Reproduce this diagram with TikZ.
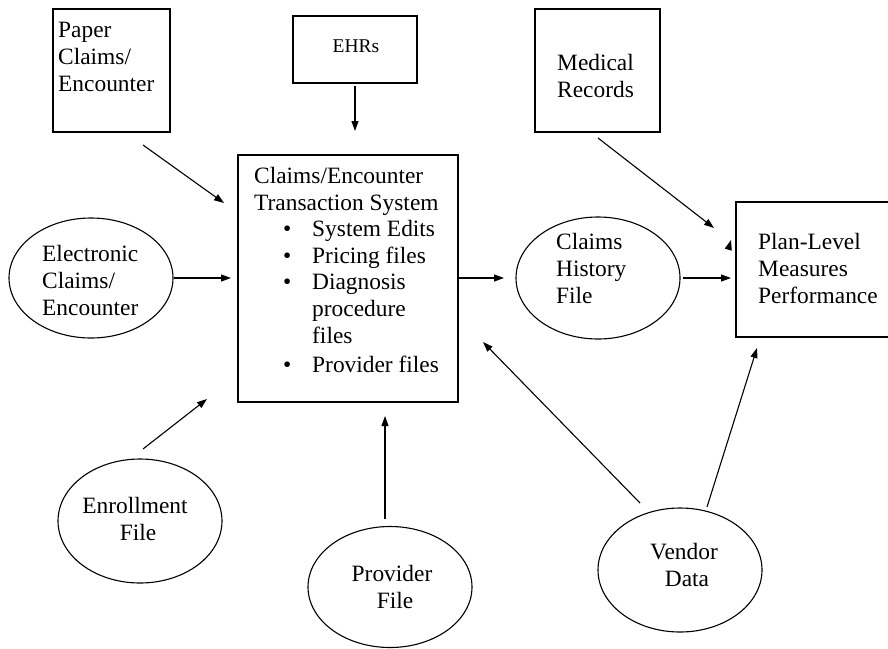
\documentclass[tikz,border=0pt]{standalone}
\usepackage{fontspec}
\setmainfont{Liberation Serif}
\usetikzlibrary{arrows.meta,shapes.geometric}
\begin{document}
\begin{tikzpicture}[x=1pt,y=-1pt,
  box/.style={draw,line width=1.2pt,rectangle,inner sep=0pt},
  oval/.style={draw,line width=1.1pt,ellipse,inner sep=0pt,minimum width=164pt},
  txt/.style={inner sep=0pt,font=\fontsize{23.4}{26.7}\selectfont},
  arr/.style={line width=1.1pt,-{Triangle[length=10pt,width=7pt]}}]
\useasboundingbox (0,0) rectangle (888,648);
% boxes
\node[box,minimum width=117pt,minimum height=123pt] (paper) at (111.5,70.5) {};
\node[box,minimum width=124pt,minimum height=67pt] (ehr) at (355,49.5) {};
\node[box,minimum width=220pt,minimum height=247pt] (cets) at (348,278.5) {};
\node[box,minimum width=125pt,minimum height=123pt] (med) at (597.5,70.5) {};
\node[box,minimum width=160pt,minimum height=135pt] (plan) at (816,269.5) {};
% ellipses
\node[oval,minimum height=120pt] (elec) at (91,278) {};
\node[oval,minimum height=122pt] (hist) at (598,278) {};
\node[oval,minimum height=124pt] (enr) at (140,521) {};
\node[oval,minimum height=121pt] (prov) at (390,587) {};
\node[oval,minimum height=124pt] (vend) at (680,570) {};
% texts (base anchor = baseline of the last line)
\node[txt,anchor=base west,align=left] (paperT) at (58,91) {Paper\\Claims/\\Encounter};
\node[txt,anchor=base,font=\fontsize{19.5}{22}\selectfont] (ehrT) at (356,52) {EHRs};
\node[txt,anchor=base west,align=left] (medT) at (557,97) {Medical\\Records};
\node[txt,anchor=base west,align=left] (cetsT) at (254,210) {Claims/Encounter\\Transaction System};
\node[txt,anchor=base west,align=left] (cetsL) at (283,372) {%
\makebox[29pt][l]{\textbullet}System Edits\\
\makebox[29pt][l]{\textbullet}Pricing files\\
\makebox[29pt][l]{\textbullet}Diagnosis\\
\hspace*{29pt}procedure\\
\hspace*{29pt}files\\[2pt]
\makebox[29pt][l]{\textbullet}Provider files};
\node[txt,anchor=base west,align=left] (elecT) at (42,315) {Electronic\\Claims/\\Encounter};
\node[txt,anchor=base west,align=left] (histT) at (556,303) {Claims\\History\\File};
\node[txt,anchor=base west,align=left] (planT) at (758,303) {Plan-Level\\Measures\\Performance};
\node[txt,anchor=base,align=center] (enrT) at (135,540) {Enrollment\\\hspace*{6pt}File};
\node[txt,anchor=base,align=center] (provT) at (392,608) {Provider\\\hspace*{6pt}File};
\node[txt,anchor=base,align=center] (vendT) at (684,586) {Vendor\\\hspace*{6pt}Data};
% arrow end points
\coordinate (a1s) at (143,145); \coordinate (a1e) at (224,203);
\coordinate (a2s) at (355,86);  \coordinate (a2e) at (355,131);
\coordinate (a3s) at (174,278); \coordinate (a3e) at (231,278);
\coordinate (a4s) at (458,278); \coordinate (a4e) at (504,278);
\coordinate (a5s) at (683,278); \coordinate (a5e) at (731,278);
\coordinate (a6s) at (598,138); \coordinate (a6e) at (714,228);
\coordinate (a7s) at (143,449); \coordinate (a7e) at (207,399);
\coordinate (a8s) at (385,519); \coordinate (a8e) at (385,416);
\coordinate (a9s) at (640,503); \coordinate (a9e) at (483,342);
\coordinate (a10s) at (707,507); \coordinate (a10e) at (757,348);
\coordinate (a11s) at (729,247); \coordinate (a11e) at (731,240);
\draw[arr] (a1s) -- (a1e);
\draw[arr] (a2s) -- (a2e);
\draw[arr] (a3s) -- (a3e);
\draw[arr] (a4s) -- (a4e);
\draw[arr] (a5s) -- (a5e);
\draw[arr] (a6s) -- (a6e);
\draw[arr] (a7s) -- (a7e);
\draw[arr] (a8s) -- (a8e);
\draw[arr] (a9s) -- (a9e);
\draw[arr] (a10s) -- (a10e);
\draw[arr] (a11s) -- (a11e);
\end{tikzpicture}
\end{document}
